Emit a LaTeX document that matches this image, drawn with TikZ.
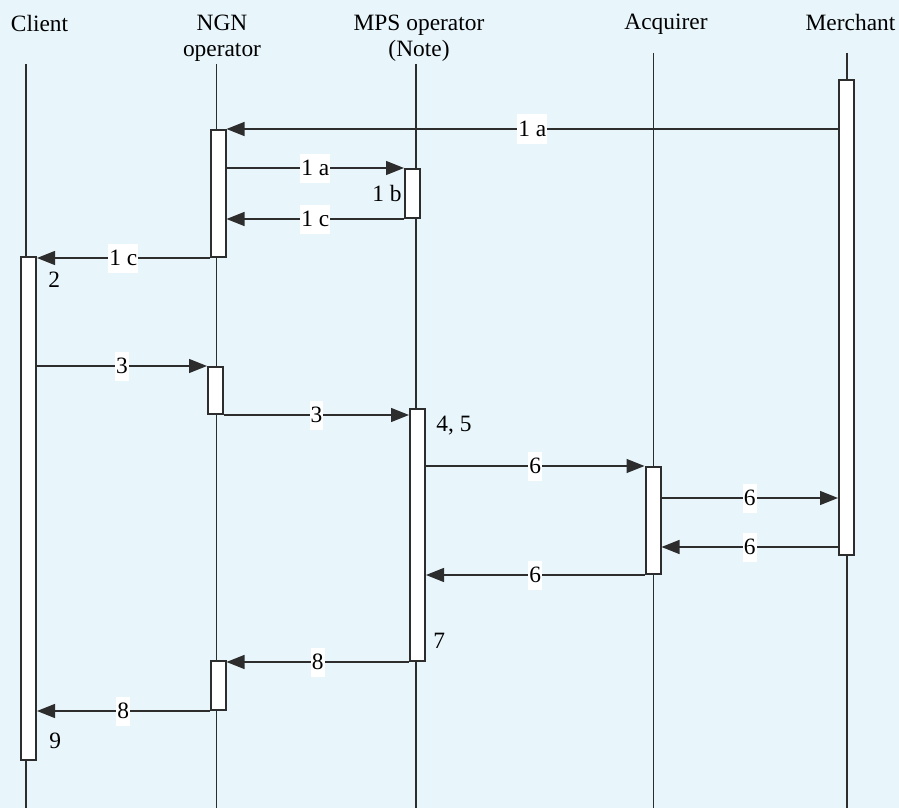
\documentclass[tikz,border=0pt]{standalone}
\usepackage{fontspec}
\setmainfont{Liberation Serif}
\usepackage{tikz}
\usetikzlibrary{arrows.meta}
\usetikzlibrary{positioning,calc}
\definecolor{bgblue}{RGB}{232,246,252}
\definecolor{ink}{RGB}{45,45,45}

\begin{document}
\begin{tikzpicture}[x=0.5pt,y=-0.5pt,
		font=\fontsize{11.7}{13}\selectfont,
		head/.style={anchor=north,inner sep=0pt,align=center},
		act/.style={rectangle,draw=ink,line width=1pt,fill=white,minimum width=7.5pt,inner sep=0pt},
		msg/.style={draw=ink,line width=0.65pt,-{Triangle[length=9pt,width=7pt]}},
		lbl/.style={fill=white,inner xsep=0.5pt,inner ysep=0pt,minimum height=14.5pt},
		note/.style={inner sep=0pt},
		life/.style={draw=ink,line width=0.6pt}]
		\useasboundingbox (0,0) rectangle (899,808);
		\fill[bgblue] (0,0) rectangle (899,808);
		% heads
		\node[head] (hclient) at (39.5,15) {Client};
		\node[head] (hngn) at (222,15) {NGN\\operator};
		\node[head] (hmps) at (419,15) {MPS operator\\(Note)};
		\node[head] (hacq) at (666,14) {Acquirer};
		\node[head] (hmer) at (850.5,14) {Merchant};
		% lifelines
		\coordinate (bot) at (0,808);
		\foreach \n/\x/\y in {lc/26/64,ln/216.5/64,lp/416/64,la/653.5/53,lm/847/53}{
			\coordinate (\n) at (\x,\y);
			\draw[life] (\n) -- (\n |- bot);
		}
		% activations
		\node[act,minimum height=237.5pt] (m1) at (846.5,317.5) {};
		\node[act,minimum height=63.5pt] (n1) at (218,193.5) {};
		\node[act,minimum height=24.5pt] (p1) at (412.5,193.5) {};
		\node[act,minimum height=251.5pt] (c1) at (28.5,508.5) {};
		\node[act,minimum height=23.5pt] (n2) at (215.5,390.5) {};
		\node[act,minimum height=126pt] (p2) at (417.5,535) {};
		\node[act,minimum height=53.5pt] (a1) at (653,520.5) {};
		\node[act,minimum height=24.5pt] (n3) at (218,685.5) {};
		% messages
		\coordinate (q1) at (0,498);
		\coordinate (q2) at (0,547);
		\draw[msg] (m1.west |- n1.north) -- node[lbl] {1 a} (n1.north east);
		\draw[msg] (n1.east |- p1.north) -- node[lbl] {1 a} (p1.north west);
		\draw[msg] (p1.south west) -- node[lbl] {1 c} (n1.east |- p1.south);
		\draw[msg] (n1.south west) -- node[lbl] {1 c} (c1.east |- n1.south);
		\draw[msg] (c1.east |- n2.north) -- node[lbl] {3} (n2.north west);
		\draw[msg] (n2.south east) -- node[lbl] {3} (p2.west |- n2.south);
		\draw[msg] (p2.east |- a1.north) -- node[lbl] {6} (a1.north west);
		\draw[msg] (a1.east |- q1) -- node[lbl] {6} (m1.west |- q1);
		\draw[msg] (m1.west |- q2) -- node[lbl] {6} (a1.east |- q2);
		\draw[msg] (a1.south west) -- node[lbl] {6} (p2.east |- a1.south);
		\draw[msg] (p2.south west) -- node[lbl] {8} (n3.east |- p2.south);
		\draw[msg] (n3.south west) -- node[lbl] {8} (c1.east |- n3.south);
		% steps
		\node[note,left=1pt of p1.west] (s1b) {1 b};
		\node[note,below right=8pt and 5.5pt of c1.north east] (s2) {2};
		\node[note,below right=4pt and 5pt of p2.north east] (s45) {4, 5};
		\node[note,above right=6.5pt and 3.5pt of p2.south east] (s7) {7};
		\node[note,above right=6pt and 6pt of c1.south east] (s9) {9};
	\end{tikzpicture}
\end{document}
